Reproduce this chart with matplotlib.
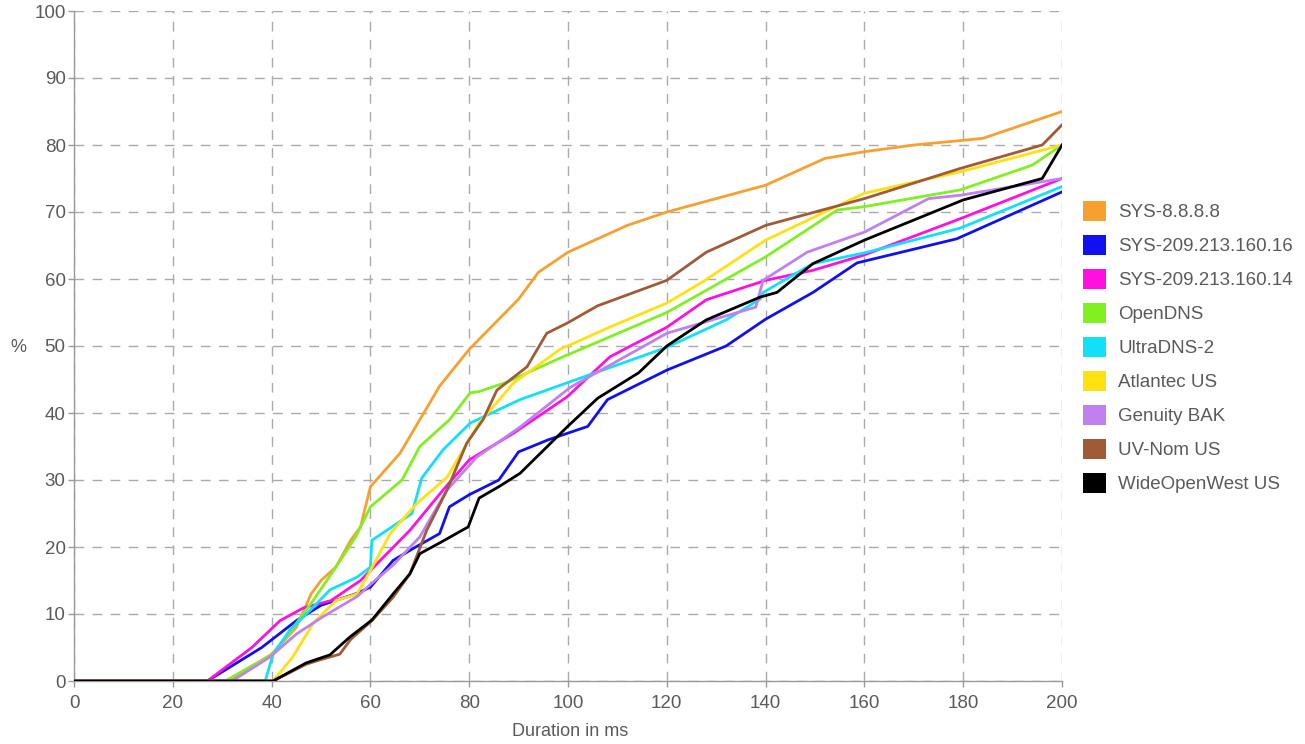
import matplotlib
matplotlib.use("Agg")
import matplotlib.pyplot as plt
from matplotlib.patches import Patch

plt.rcParams['font.family'] = ['Liberation Sans', 'DejaVu Sans']

names = ["SYS-8.8.8.8", "SYS-209.213.160.16", "SYS-209.213.160.14", "OpenDNS",
         "UltraDNS-2", "Atlantec US", "Genuity BAK", "UV-Nom US", "WideOpenWest US"]
colors = ["#F7A030", "#1010F0", "#FF10E0", "#80F020", "#10E0F8", "#FFE010",
          "#C080F0", "#A05A35", "#000000"]

sys8_x = [0, 31, 40, 45, 48, 50, 53, 56, 58, 60, 66, 70, 74, 80, 86, 90, 94, 100, 106, 112, 120, 130, 140, 146, 152, 160, 170, 180, 184, 200]
sys8_y = [0, 0, 4, 8, 13, 15, 17, 21, 23, 29, 34, 39, 44, 49.5, 54, 57, 61, 64, 66, 68, 70, 72, 74, 76, 78, 79, 80, 80.7, 81, 85]

sys16_x = [0, 27, 38, 45, 50, 57, 60, 64.6, 68.7, 74, 76, 80, 86, 90, 96, 104, 108, 120, 132, 140, 149.6, 158.5, 178.7, 200]
sys16_y = [0, 0, 5, 9, 11.3, 13, 14, 18, 19.8, 22, 26, 27.8, 30, 34.2, 36, 38, 42, 46.4, 50, 54, 58, 62.4, 66, 73]

sys14_x = [0, 27, 36, 41.7, 46.4, 52, 58, 62, 68, 74.7, 80, 89, 99.8, 108.5, 120, 128, 140, 149.6, 160, 179.4, 200]
sys14_y = [0, 0, 5, 9, 10.9, 12, 15, 18, 22.5, 28.5, 33, 37, 42.4, 48.4, 52.8, 56.9, 59.8, 61.3, 63.6, 69, 75]

open_x = [0, 30.6, 40, 43.7, 48.4, 53, 57, 60, 66.4, 70, 76, 80.2, 82, 87.6, 98.4, 120, 140, 154.5, 160, 179.4, 194, 200]
open_y = [0, 0, 3.9, 7.3, 12, 17, 21.5, 26, 30, 35, 39, 43, 43.2, 44.6, 48.2, 55, 63.3, 70.3, 70.8, 73.3, 77, 80]

ultra_x = [0, 38.7, 40.3, 43.7, 48.4, 51.8, 57.3, 60, 60.3, 68.4, 70.4, 74.7, 80.2, 90.3, 99.8, 120, 132, 138.9, 139.5, 149.6, 160, 179.4, 200]
ultra_y = [0, 0, 4, 7.6, 11, 13.6, 15.5, 17, 21, 25, 30.3, 34.5, 38.5, 42, 44.5, 49.8, 53.9, 57, 58, 62.3, 63.9, 67.6, 73.8]

atl_x = [0, 40.3, 44.3, 48.4, 53, 57.3, 60, 64, 69.4, 75.5, 82, 89, 98.4, 109, 120, 127.3, 140, 160, 179.4, 200]
atl_y = [0, 0, 3.6, 8.6, 12, 13, 16.5, 22, 26.5, 30.4, 38.5, 44.5, 49.5, 53, 56.4, 59.6, 65.8, 72.8, 76, 80]

gen_x = [0, 32, 39.7, 45, 50.4, 57.3, 60.3, 64.6, 70, 75.5, 81.5, 90.3, 100.4, 120, 138, 139.5, 148.4, 160, 173, 179.4, 200]
gen_y = [0, 0, 3.6, 7, 9.6, 12.6, 14.6, 17.3, 21.5, 28.5, 33.4, 37.9, 43.8, 51.9, 55.8, 59.8, 64, 67, 72, 72.5, 75]

uv_x = [0, 40.3, 47, 50, 53.8, 56, 60.3, 64.6, 68, 71.4, 75.5, 79.5, 82.8, 85.6, 91.7, 95.7, 99.8, 106, 120, 128, 140, 160, 179.4, 196, 200]
uv_y = [0, 0, 2.5, 3.2, 4, 6.2, 9, 12.5, 16, 22.5, 28.5, 35.5, 39, 43.4, 46.9, 51.9, 53.4, 56, 59.8, 64, 68, 72, 76.5, 80, 83]

wow_x = [0, 40.3, 47, 51.8, 55.9, 60.3, 64.6, 68, 70, 74, 79.8, 82, 86, 90.3, 99.8, 106, 114.3, 120, 128, 138.9, 142.3, 149.6, 160, 180, 196, 200]
wow_y = [0, 0, 2.7, 3.9, 6.6, 9.1, 13, 16, 19, 20.6, 23, 27.3, 29, 31, 37.9, 42.2, 46, 50, 53.9, 57.3, 58, 62.3, 65.8, 71.8, 75, 80]

series = [(sys8_x, sys8_y), (sys16_x, sys16_y), (sys14_x, sys14_y), (open_x, open_y),
          (ultra_x, ultra_y), (atl_x, atl_y), (gen_x, gen_y), (uv_x, uv_y), (wow_x, wow_y)]

x_ticks = list(range(0, 201, 20))
y_ticks = list(range(0, 101, 10))

fig = plt.figure(figsize=(13.05, 7.44), dpi=100)
ax = fig.add_axes([74/1305, 1-681/744, (1062-74)/1305, (681-11)/744])

for (xs, ys), c in zip(series, colors):
    ax.plot(xs, ys, color=c, lw=2.0, solid_joinstyle='round', zorder=3)

ax.set_xlim(0, 200)
ax.set_ylim(0, 100)
ax.set_xticks(x_ticks)
ax.set_yticks(y_ticks)
ax.grid(True, color='#aaaaaa', linestyle=(0, (7, 6)), lw=1.0, zorder=0)
for s in ['top', 'right']:
    ax.spines[s].set_visible(False)
for s in ['left', 'bottom']:
    ax.spines[s].set_color('#999999')
    ax.spines[s].set_linewidth(1.0)
ax.tick_params(colors='#999999', labelcolor='#5a5a5a', labelsize=13.5, length=4, width=1)
ax.tick_params(axis='x', pad=6)
ax.tick_params(axis='y', pad=2)

fig.text(18/1305, 1-348/744, '%', color='#5a5a5a', fontsize=13, ha='center', va='center')
fig.text(570/1305, 1-732/744, 'Duration in ms', color='#5a5a5a', fontsize=13, ha='center', va='center')

handles = [Patch(facecolor=c, edgecolor='none') for c in colors]
fig.legend(handles, names, loc='upper left', bbox_to_anchor=(1075/1305, 1-193/744),
           frameon=False, fontsize=13.5, handlelength=1.25, handleheight=1.3,
           handletextpad=0.65, labelspacing=0.72, labelcolor='#5a5a5a', borderaxespad=0)

fig.savefig('out.png', dpi=100)
